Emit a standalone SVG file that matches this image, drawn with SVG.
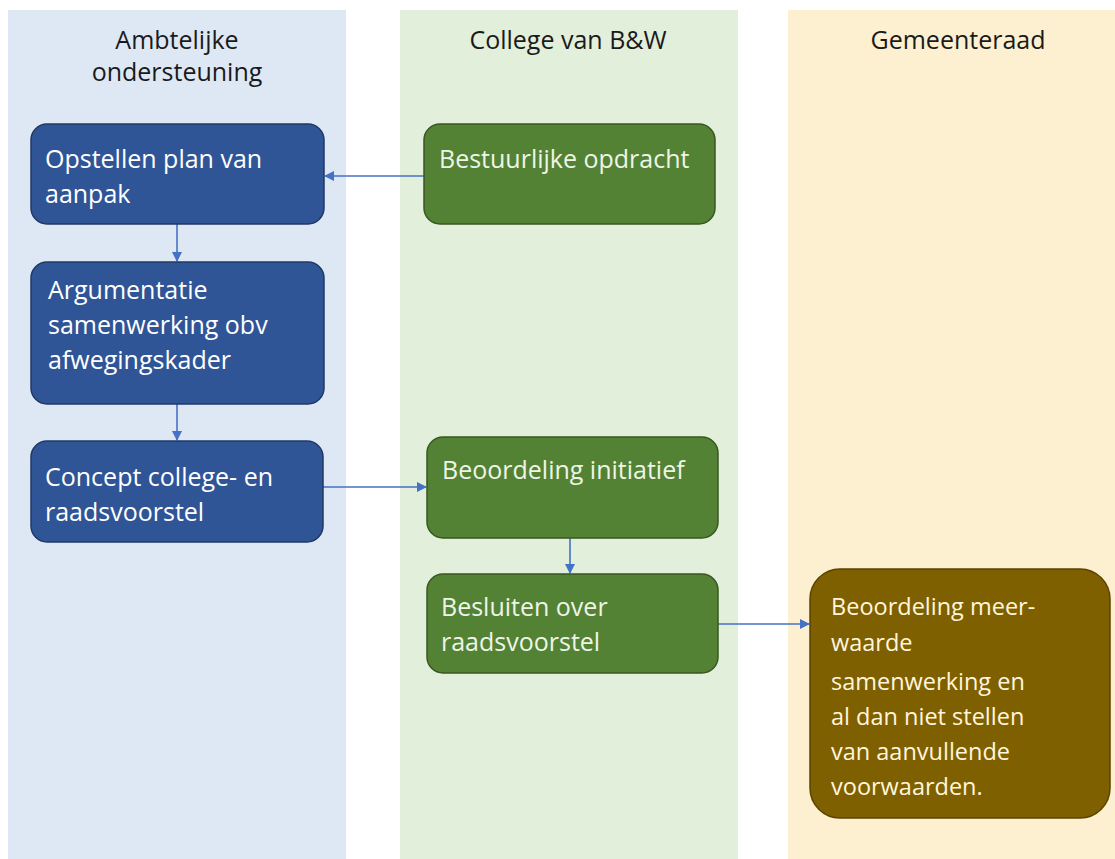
<svg xmlns="http://www.w3.org/2000/svg" width="1115" height="859" viewBox="0 0 1115 859">
<defs>
<style>
.lane-title{font-family:"Open Sans","Liberation Sans",sans-serif;font-size:25px;fill:#1a1a1a;text-anchor:middle}
.t{font-family:"Open Sans","Liberation Sans",sans-serif;font-size:25px;fill:#ffffff}
.tg{font-family:"Open Sans","Liberation Sans",sans-serif;font-size:25px;fill:#eef5e6}
.ty{font-family:"Open Sans","Liberation Sans",sans-serif;font-size:23.5px;fill:#fff6dc}
.blue{fill:#2f5597;stroke:#203864;stroke-width:1.5}
.green{fill:#548235;stroke:#385723;stroke-width:1.5}
.brown{fill:#7f6000;stroke:#5a4400;stroke-width:1.5}
.conn{stroke:#4472c4;stroke-width:1.6;fill:none;marker-end:url(#arr)}
</style>
<marker id="arr" markerWidth="10" markerHeight="10" refX="9" refY="5" orient="auto" markerUnits="userSpaceOnUse">
<path d="M0,0 L10,5 L0,10 Z" fill="#4472c4"/>
</marker>
</defs>
<rect width="1115" height="859" fill="#ffffff"/>
<g id="lanes">
<rect x="8" y="10" width="338" height="849" fill="#dee8f5"/>
<rect x="400" y="10" width="338" height="849" fill="#e2efda"/>
<rect x="788" y="10" width="327" height="849" fill="#fdf0d0"/>
<text class="lane-title" x="177" y="49">Ambtelijke</text>
<text class="lane-title" x="177" y="81">ondersteuning</text>
<text class="lane-title" x="568" y="49">College van B&amp;W</text>
<text class="lane-title" x="958" y="49">Gemeenteraad</text>
</g>
<g id="connectors">
<line class="conn" x1="424" y1="176" x2="325" y2="176"/>
<line class="conn" x1="177" y1="224" x2="177" y2="261"/>
<line class="conn" x1="177" y1="404" x2="177" y2="440"/>
<line class="conn" x1="323" y1="487" x2="426" y2="487"/>
<line class="conn" x1="570" y1="538" x2="570" y2="573"/>
<line class="conn" x1="718" y1="624" x2="809" y2="624"/>
</g>
<g id="n1">
<rect class="blue" x="31" y="124" width="293" height="100" rx="16"/>
<text class="t" x="45" y="168">Opstellen plan van</text>
<text class="t" x="45" y="203">aanpak</text>
</g>
<g id="n2">
<rect class="blue" x="31" y="262" width="293" height="142" rx="16"/>
<text class="t" x="48" y="299">Argumentatie</text>
<text class="t" x="48" y="334">samenwerking obv</text>
<text class="t" x="48" y="369">afwegingskader</text>
</g>
<g id="n3">
<rect class="blue" x="31" y="441" width="292" height="101" rx="16"/>
<text class="t" x="45" y="486">Concept college- en</text>
<text class="t" x="45" y="521">raadsvoorstel</text>
</g>
<g id="n4">
<rect class="green" x="424" y="124" width="291" height="100" rx="16"/>
<text class="tg" x="439" y="168">Bestuurlijke opdracht</text>
</g>
<g id="n5">
<rect class="green" x="427" y="437" width="291" height="101" rx="16"/>
<text class="tg" x="442" y="479">Beoordeling initiatief</text>
</g>
<g id="n6">
<rect class="green" x="427" y="574" width="291" height="99" rx="16"/>
<text class="tg" x="441" y="616">Besluiten over</text>
<text class="tg" x="441" y="651">raadsvoorstel</text>
</g>
<g id="n7">
<rect class="brown" x="810" y="569" width="300" height="249" rx="30"/>
<text class="ty" x="831" y="615">Beoordeling meer-</text>
<text class="ty" x="831" y="651">waarde</text>
<text class="ty" x="831" y="690">samenwerking en</text>
<text class="ty" x="831" y="725">al dan niet stellen</text>
<text class="ty" x="831" y="760">van aanvullende</text>
<text class="ty" x="831" y="795">voorwaarden.</text>
</g>
</svg>
